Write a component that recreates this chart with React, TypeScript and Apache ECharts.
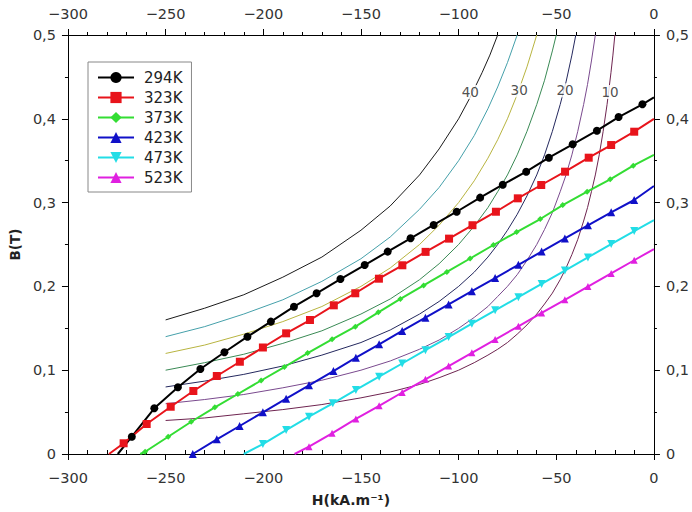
import React, { useEffect, useRef } from "react";
import * as echarts from "echarts";

// ---- measured series (H in kA/m, B in T) ----
const H_294 = [-274.5, -267.3, -255.8, -243.7, -232.2, -219.9, -208.1, -196.1, -184.3, -172.7, -160.5, -148.1, -136.3, -124.6, -112.8, -101.0, -89.0, -77.4, -65.4, -53.8, -41.6, -29.2, -18.1, -5.9, 0];
const B_294 = [0, 0.0206, 0.0545, 0.0796, 0.1014, 0.1214, 0.140, 0.158, 0.1758, 0.1918, 0.2088, 0.2255, 0.2415, 0.2574, 0.2733, 0.2891, 0.3059, 0.3214, 0.3369, 0.3536, 0.3696, 0.3858, 0.4021, 0.4173, 0.4255];

const H_323 = [-279, -271.5, -259.7, -247.4, -235.8, -223.8, -212.0, -200.2, -188.3, -176.1, -163.9, -152.9, -140.8, -128.8, -116.9, -104.9, -92.9, -80.9, -69.7, -57.7, -45.5, -33.4, -21.9, -10.1, 0];
const B_323 = [0, 0.0128, 0.0358, 0.0564, 0.0752, 0.0931, 0.1101, 0.1271, 0.1440, 0.1599, 0.1774, 0.1918, 0.2092, 0.2252, 0.2412, 0.2570, 0.2730, 0.2891, 0.3051, 0.3210, 0.3369, 0.3536, 0.3687, 0.3846, 0.400];

const H_373 = [-263, -260.5, -248.7, -236.9, -224.8, -213.0, -201.1, -189.2, -177.3, -164.8, -152.9, -141.1, -129.8, -117.9, -106.0, -94.1, -82.2, -70.3, -58.2, -46.7, -34.2, -22.4, -10.6, 0];
const B_373 = [0, 0.0027, 0.0206, 0.0385, 0.0557, 0.0716, 0.0877, 0.1038, 0.1205, 0.1369, 0.1519, 0.1691, 0.1850, 0.2011, 0.2172, 0.2333, 0.2494, 0.2649, 0.2804, 0.2971, 0.3130, 0.3278, 0.3440, 0.357];

const H_423 = [-236.1, -223.8, -212.1, -200.2, -188.3, -176.6, -164.1, -152.6, -140.7, -128.9, -117.0, -105.1, -93.2, -81.3, -69.4, -57.5, -45.6, -33.8, -21.9, -10.1, 0];
const B_423 = [0.0, 0.0175, 0.0334, 0.0498, 0.0660, 0.0820, 0.0990, 0.1149, 0.1309, 0.1468, 0.1626, 0.1785, 0.1943, 0.2100, 0.2258, 0.2415, 0.2573, 0.2729, 0.2884, 0.3031, 0.3198];

const H_473 = [-210, -200.2, -188.3, -176.6, -164.4, -152.6, -140.7, -128.9, -117.0, -105.1, -93.2, -81.3, -69.4, -57.5, -45.6, -33.8, -21.9, -10.1, 0];
const B_473 = [0, 0.0119, 0.0286, 0.0445, 0.0605, 0.0764, 0.0922, 0.1080, 0.1239, 0.1396, 0.1555, 0.1714, 0.1871, 0.2030, 0.2189, 0.2346, 0.2505, 0.2661, 0.279];

const H_523 = [-184, -176.6, -164.8, -152.6, -140.7, -128.9, -117.0, -105.1, -93.2, -81.3, -69.4, -57.5, -45.6, -33.8, -21.9, -10.1, 0];
const B_523 = [0, 0.0087, 0.0247, 0.0418, 0.0575, 0.0734, 0.0891, 0.1050, 0.1208, 0.1366, 0.1524, 0.1683, 0.1840, 0.1998, 0.2155, 0.2312, 0.2446];

const SERIES_NAMES = ["294K", "323K", "373K", "423K", "473K", "523K"];

// ---- iso-energy curves (B·H, kJ/m³) ----
const ISO_40_H = [-250, -230, -210, -190, -170, -150, -135, -120, -110, -100, -94, -88, -84, -80];
const ISO_40_B = [0.160, 0.174, 0.190, 0.211, 0.235, 0.267, 0.296, 0.333, 0.364, 0.400, 0.426, 0.455, 0.476, 0.500];
const ISO_35_H = [-250, -230, -210, -190, -170, -150, -135, -120, -110, -100, -92, -85, -80, -75, -70];
const ISO_35_B = [0.140, 0.152, 0.167, 0.184, 0.206, 0.233, 0.259, 0.292, 0.318, 0.350, 0.380, 0.412, 0.438, 0.467, 0.500];
const ISO_30_H = [-250, -230, -210, -190, -170, -150, -135, -120, -110, -100, -92, -85, -80, -75, -70, -65, -60];
const ISO_30_B = [0.120, 0.130, 0.143, 0.158, 0.176, 0.200, 0.222, 0.250, 0.273, 0.300, 0.326, 0.353, 0.375, 0.400, 0.429, 0.462, 0.500];
const ISO_25_H = [-250, -230, -210, -190, -170, -150, -135, -120, -110, -100, -92, -85, -80, -75, -70, -65, -60, -56, -52, -50];
const ISO_25_B = [0.100, 0.109, 0.119, 0.132, 0.147, 0.167, 0.185, 0.208, 0.227, 0.250, 0.272, 0.294, 0.313, 0.333, 0.357, 0.385, 0.417, 0.446, 0.481, 0.500];
const ISO_20_H = [-250, -230, -210, -190, -170, -150, -135, -120, -110, -100, -92, -85, -80, -75, -70, -65, -60, -56, -52, -48, -45, -42, -40];
const ISO_20_B = [0.080, 0.087, 0.095, 0.105, 0.118, 0.133, 0.148, 0.167, 0.182, 0.200, 0.217, 0.235, 0.250, 0.267, 0.286, 0.308, 0.333, 0.357, 0.385, 0.417, 0.444, 0.476, 0.500];
const ISO_15_H = [-250, -230, -210, -190, -170, -150, -135, -120, -110, -100, -92, -85, -80, -75, -70, -65, -60, -56, -52, -48, -45, -42, -39, -36, -34, -32, -30];
const ISO_15_B = [0.060, 0.065, 0.071, 0.079, 0.088, 0.100, 0.111, 0.125, 0.136, 0.150, 0.163, 0.176, 0.188, 0.200, 0.214, 0.231, 0.250, 0.268, 0.288, 0.313, 0.333, 0.357, 0.385, 0.417, 0.441, 0.469, 0.500];
const ISO_10_H = [-250, -230, -210, -190, -170, -150, -135, -120, -110, -100, -92, -85, -80, -75, -70, -65, -60, -56, -52, -48, -45, -42, -39, -36, -34, -32, -30, -28, -26, -24, -22, -21, -20];
const ISO_10_B = [0.040, 0.043, 0.048, 0.053, 0.059, 0.067, 0.074, 0.083, 0.091, 0.100, 0.109, 0.118, 0.125, 0.133, 0.143, 0.154, 0.167, 0.179, 0.192, 0.208, 0.222, 0.238, 0.256, 0.278, 0.294, 0.313, 0.333, 0.357, 0.385, 0.417, 0.455, 0.476, 0.500];

const ISO_LABELS = ["40", "30", "20", "10"];
const ISO_LABEL_H = [-94, -69, -45.5, -22.5];
const ISO_LABEL_B = [0.432, 0.434, 0.434, 0.432];

const FONT = "DejaVu Sans";

const fmtX = (v: number) => String(v).replace("-", "\u2212");
const fmtY = (v: number) => String(Math.round(v * 10) / 10).replace(".", ",");

function markerData(h: number[], b: number[], unmarked: number[]) {
  return h.map((x, i) =>
    unmarked.includes(i) ? { value: [x, b[i]], symbol: "none" } : { value: [x, b[i]] }
  );
}

export default function App() {
  const ref = useRef<HTMLDivElement>(null);
  useEffect(() => {
    if (!ref.current) return;
    const chart = echarts.init(ref.current, undefined, { renderer: "svg" });

    const xCommon = {
      type: "value",
      min: -300,
      max: 0,
      interval: 50,
      splitLine: { show: false },
      axisLine: { show: true, onZero: false, lineStyle: { color: "#000", width: 1 } },
    };
    const yCommon = {
      type: "value",
      min: 0,
      max: 0.5,
      interval: 0.1,
      splitLine: { show: false },
      axisLine: { show: true, onZero: false, lineStyle: { color: "#000", width: 1 } },
    };
    const labelStyle = { fontFamily: FONT, fontSize: 14.5, color: "#333" };

    const isoDefs = [
      { h: ISO_40_H, b: ISO_40_B, color: "#1a1a1a" },
      { h: ISO_35_H, b: ISO_35_B, color: "#45a0aa" },
      { h: ISO_30_H, b: ISO_30_B, color: "#b8b440" },
      { h: ISO_25_H, b: ISO_25_B, color: "#3a8a55" },
      { h: ISO_20_H, b: ISO_20_B, color: "#24285e" },
      { h: ISO_15_H, b: ISO_15_B, color: "#7a4a8e" },
      { h: ISO_10_H, b: ISO_10_B, color: "#6e2450" },
    ];

    const isoSeries = isoDefs.map((d) => ({
      type: "line",
      data: d.h.map((x, i) => [x, d.b[i]]),
      smooth: false,
      symbol: "none",
      lineStyle: { color: d.color, width: 1 },
      silent: true,
      z: 1,
    }));

    const mainDefs = [
      { name: "294K", h: H_294, b: B_294, color: "#000000", symbol: "circle", size: 8, rot: 0, un: [0, H_294.length - 1] },
      { name: "323K", h: H_323, b: B_323, color: "#e8141b", symbol: "rect", size: 8, rot: 0, un: [0, H_323.length - 1] },
      { name: "373K", h: H_373, b: B_373, color: "#33dd33", symbol: "diamond", size: 6, rot: 0, un: [0, H_373.length - 1] },
      { name: "423K", h: H_423, b: B_423, color: "#1010c8", symbol: "triangle", size: 8, rot: 0, un: [H_423.length - 1] },
      { name: "473K", h: H_473, b: B_473, color: "#22dde6", symbol: "triangle", size: 8, rot: 180, un: [0, H_473.length - 1] },
      { name: "523K", h: H_523, b: B_523, color: "#e020e0", symbol: "triangle", size: 7, rot: 0, un: [0, H_523.length - 1] },
    ];

    const mainSeries = mainDefs.map((d) => ({
      type: "line",
      name: d.name,
      data: markerData(d.h, d.b, d.un),
      symbol: d.symbol,
      symbolSize: d.size,
      symbolRotate: d.rot,
      showSymbol: true,
      lineStyle: { color: d.color, width: 2 },
      itemStyle: { color: d.color },
      z: 3,
    }));

    const labelSeries = {
      type: "scatter",
      data: ISO_LABELS.map((t, i) => ({ name: t, value: [ISO_LABEL_H[i], ISO_LABEL_B[i]] })),
      symbol: "rect",
      symbolSize: [22, 14],
      itemStyle: { color: "#ffffff" },
      label: {
        show: true,
        position: "inside",
        formatter: (p: any) => p.name,
        fontFamily: FONT,
        fontSize: 13.5,
        color: "#222",
      },
      silent: true,
      z: 2,
    };

    chart.setOption({
      animation: false,
      backgroundColor: "#ffffff",
      textStyle: { fontFamily: FONT },
      grid: { left: 62, right: 37, top: 35, bottom: 58, containLabel: false },
      legend: {
        data: SERIES_NAMES,
        orient: "vertical",
        left: 88,
        top: 62,
        padding: [8, 9, 7, 9],
        itemGap: 5,
        itemWidth: 36,
        itemHeight: 14,
        borderColor: "#888",
        borderWidth: 1,
        backgroundColor: "#fff",
        textStyle: { fontFamily: FONT, fontSize: 15, lineHeight: 14, color: "#222", padding: [0, 0, 0, 5] },
      },
      xAxis: [
        {
          ...xCommon,
          position: "bottom",
          name: "H(kA.m\u207B\u00B9)",
          nameLocation: "middle",
          nameGap: 39,
          nameTextStyle: { fontFamily: FONT, fontSize: 14, fontWeight: "bold", color: "#222", padding: [0, 20, 0, 0] },
          axisTick: { show: true, length: 6, lineStyle: { color: "#000" } },
          axisLabel: { ...labelStyle, margin: 16, formatter: fmtX },
        },
        {
          ...xCommon,
          position: "top",
          axisTick: { show: true, length: 6, lineStyle: { color: "#000" } },
          minorTick: { show: true, splitNumber: 5, length: 3, lineStyle: { color: "#000" } },
          axisLabel: { ...labelStyle, margin: 14, formatter: fmtX },
        },
        {
          ...xCommon,
          position: "bottom",
          axisLine: { show: false },
          axisTick: { show: false, inside: true },
          minorTick: { show: true, splitNumber: 5, length: 4, lineStyle: { color: "#000" } },
          axisLabel: { show: false },
        },
      ],
      yAxis: [
        {
          ...yCommon,
          position: "left",
          name: "B(T)",
          nameLocation: "middle",
          nameGap: 41,
          nameTextStyle: { fontFamily: FONT, fontSize: 13.5, fontWeight: "bold", color: "#222" },
          axisTick: { show: true, length: 6, lineStyle: { color: "#000" } },
          minorTick: { show: true, splitNumber: 2, length: 3, lineStyle: { color: "#000" } },
          axisLabel: { ...labelStyle, margin: 12, formatter: fmtY },
        },
        {
          ...yCommon,
          position: "right",
          axisTick: { show: true, length: 6, lineStyle: { color: "#000" } },
          minorTick: { show: true, splitNumber: 2, length: 3, lineStyle: { color: "#000" } },
          axisLabel: { ...labelStyle, margin: 12, formatter: fmtY },
        },
      ],
      series: [...isoSeries, labelSeries, ...mainSeries],
    });

    return () => chart.dispose();
  }, []);

  return (
    <div
      ref={ref}
      style={{ position: "fixed", left: 0, top: 0, width: 692, height: 512 }}
    />
  );
}
